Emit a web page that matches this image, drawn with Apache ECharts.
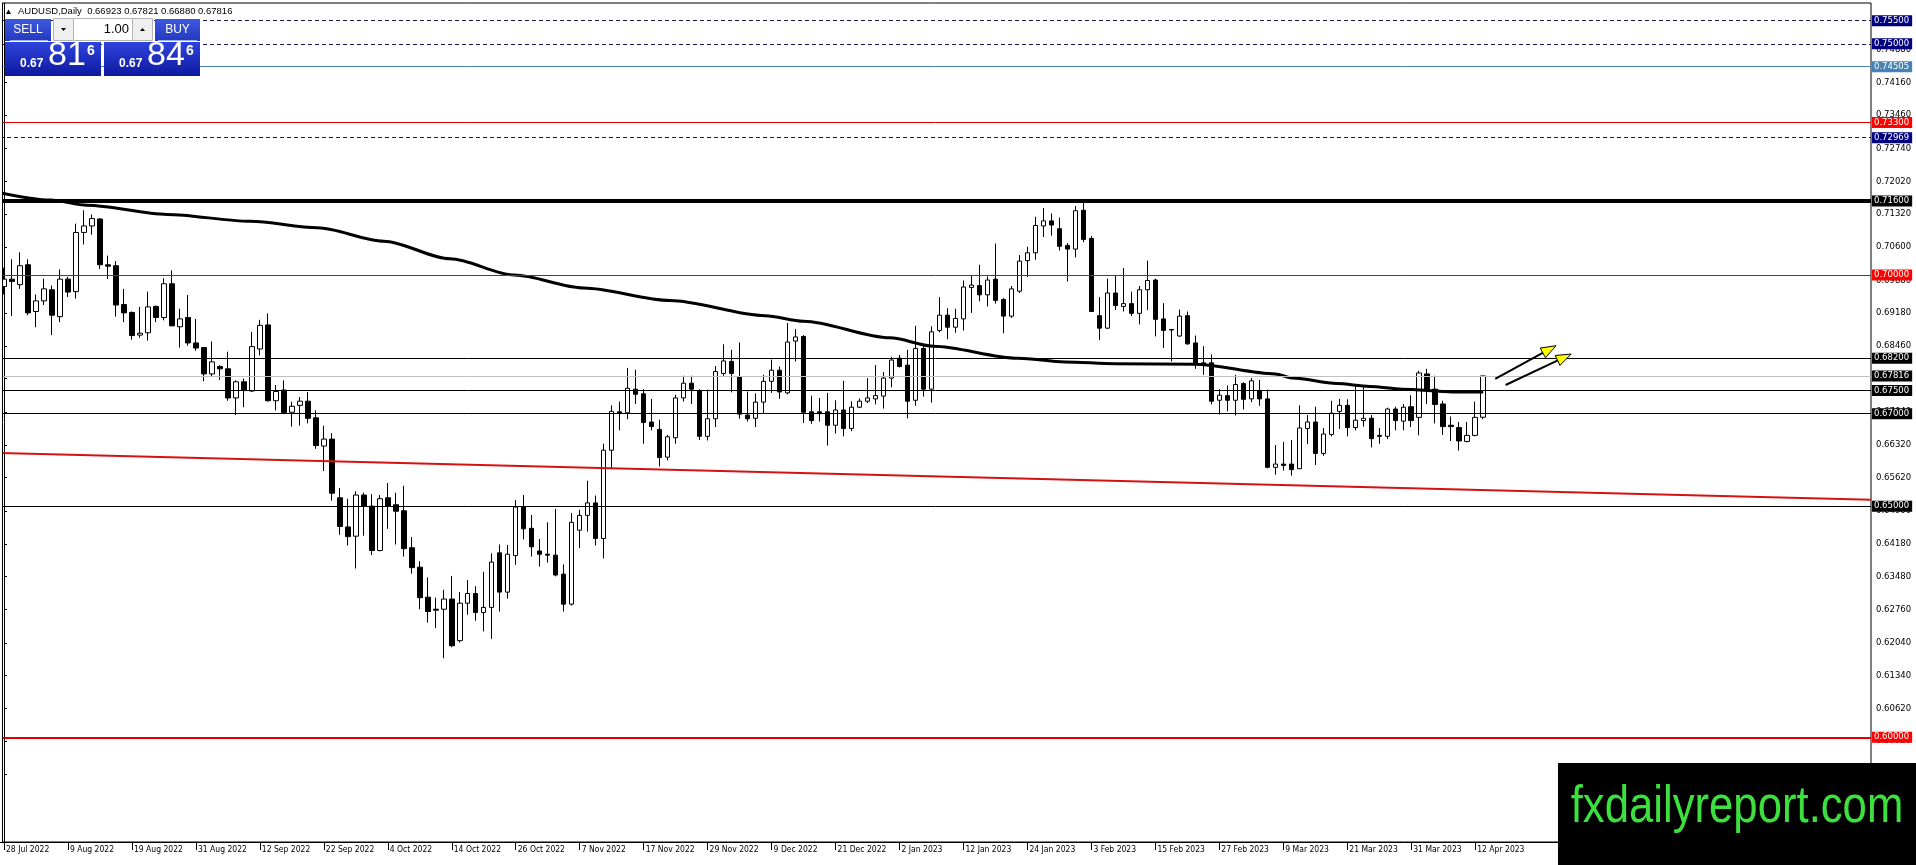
<!DOCTYPE html>
<html>
<head>
<meta charset="utf-8">
<script src="https://cdn.jsdelivr.net/npm/echarts@6/dist/echarts.min.js"></script>
<style>
html,body{margin:0;padding:0;background:#fff;}
#chart{width:1916px;height:865px;}
</style>
</head>
<body>
<div id="chart"></div>
<script>
// ---------- DATA ----------
const symbolTitle = 'AUDUSD,Daily  0.66923 0.67821 0.66880 0.67816';
const firstDay = '2022-07-28';
const lastDay = '2023-04-13';
const emptySlots = 48; // chart shift area to the right of the last bar
const monthNames = ['Jan','Feb','Mar','Apr','May','Jun','Jul','Aug','Sep','Oct','Nov','Dec'];

const openP = [
0.6975,0.6991,0.6979,0.7022,0.6921,0.6944,0.6968,0.6910,0.6991,0.6964,
0.7092,0.7106,0.7121,0.7022,0.7020,0.6936,0.6919,0.6870,0.6875,0.6932,
0.6908,0.6981,0.6888,0.6908,0.6853,0.6843,0.6786,0.6802,0.6797,0.6734,
0.6769,0.6749,0.6840,0.6892,0.6728,0.6751,0.6703,0.6718,0.6727,0.6691,
0.6630,0.6645,0.6518,0.6455,0.6435,0.6524,0.6500,0.6404,0.6518,0.6503,
0.6490,0.6410,0.6368,0.6303,0.6277,0.6277,0.6299,0.6209,0.6290,0.6311,
0.6270,0.6281,0.6399,0.6314,0.6393,0.6499,0.6452,0.6403,0.6396,0.6394,
0.6353,0.6288,0.6448,0.6480,0.6507,0.6430,0.6621,0.6704,0.6702,0.6753,
0.6743,0.6682,0.6666,0.6606,0.6648,0.6734,0.6766,0.6749,0.6651,0.6689,
0.6787,0.6813,0.6780,0.6697,0.6690,0.6725,0.6770,0.6794,0.6745,0.6857,
0.6867,0.6704,0.6704,0.6704,0.6675,0.6708,0.6668,0.6714,0.6727,0.6732,
0.6738,0.6777,0.6820,0.6805,0.6729,0.6841,0.6753,0.6880,0.6913,0.6887,
0.6905,0.6973,0.6977,0.6957,0.6991,0.6947,0.6911,0.6965,0.7031,0.7048,
0.7106,0.7117,0.7100,0.7064,0.7056,0.7140,0.7079,0.6912,0.6885,0.6961,
0.6932,0.6938,0.6917,0.6968,0.6989,0.6905,0.6882,0.6868,0.6912,0.6853,
0.6810,0.6810,0.6729,0.6739,0.6729,0.6765,0.6732,0.6749,0.6732,0.6584,
0.6591,0.6591,0.6581,0.6668,0.6682,0.6614,0.6655,0.6705,0.6718,0.6670,
0.6685,0.6690,0.6653,0.6651,0.6710,0.6684,0.6715,0.6692,0.6786,0.6753,
0.6721,0.6675,0.6670,0.6640,0.6653,0.66923];

const highP = [
0.7016,0.7034,0.7049,0.7034,0.6958,0.6992,0.6977,0.7012,0.6996,0.7111,
0.7140,0.7131,0.7123,0.7042,0.7030,0.6970,0.6921,0.6931,0.6964,0.6934,
0.6993,0.7010,0.6927,0.6957,0.6905,0.6844,0.6856,0.6805,0.6834,0.6772,
0.6776,0.6877,0.6903,0.6917,0.6762,0.6772,0.6726,0.6736,0.6747,0.6707,
0.6674,0.6658,0.6539,0.6516,0.6532,0.6529,0.6526,0.6524,0.6550,0.6529,
0.6544,0.6433,0.6381,0.6346,0.6302,0.6319,0.6349,0.6314,0.6340,0.6327,
0.6358,0.6398,0.6417,0.6416,0.6513,0.6524,0.6481,0.6429,0.6465,0.6494,
0.6374,0.6485,0.6492,0.6555,0.6523,0.6635,0.6718,0.6726,0.6799,0.6795,
0.6753,0.6732,0.6687,0.6654,0.6741,0.6782,0.6782,0.6753,0.6752,0.6803,
0.6850,0.6838,0.6854,0.6748,0.6744,0.6784,0.6817,0.6802,0.6896,0.6883,
0.6870,0.6739,0.6734,0.6745,0.6729,0.6771,0.6727,0.6733,0.6777,0.6805,
0.6790,0.6823,0.6827,0.6838,0.6890,0.6850,0.6889,0.6952,0.6928,0.6927,
0.6988,0.6999,0.7022,0.6997,0.7068,0.6950,0.6976,0.7043,0.7061,0.7126,
0.7145,0.7133,0.7124,0.7069,0.7149,0.7157,0.7084,0.6952,0.6992,0.6999,
0.7015,0.6964,0.6976,0.7031,0.6992,0.6939,0.6883,0.6925,0.6921,0.6869,
0.6846,0.6828,0.6753,0.6761,0.6784,0.6768,0.6777,0.6773,0.6752,0.6632,
0.6639,0.6643,0.6718,0.6697,0.6715,0.6669,0.6728,0.6732,0.6731,0.6760,
0.6757,0.6697,0.6669,0.6713,0.6715,0.6721,0.6740,0.6793,0.6797,0.6782,
0.6728,0.6694,0.6682,0.6682,0.6726,0.67821];

const lowP = [
0.6958,0.6911,0.6970,0.6913,0.6887,0.6935,0.6870,0.6898,0.6952,0.6949,
0.7066,0.7087,0.7013,0.6991,0.6910,0.6898,0.6860,0.6864,0.6858,0.6898,
0.6902,0.6889,0.6843,0.6847,0.6836,0.6770,0.6779,0.6773,0.6728,0.6697,
0.6714,0.6747,0.6826,0.6726,0.6707,0.6700,0.6672,0.6674,0.6679,0.6624,
0.6576,0.6512,0.6438,0.6415,0.6365,0.6436,0.6394,0.6402,0.6451,0.6417,
0.6391,0.6354,0.6277,0.6248,0.6236,0.6171,0.6195,0.6205,0.6265,0.6252,
0.6229,0.6213,0.6272,0.6300,0.6373,0.6428,0.6391,0.6369,0.6378,0.6348,
0.6272,0.6285,0.6409,0.6445,0.6415,0.6387,0.6580,0.6664,0.6688,0.6721,
0.6635,0.6664,0.6586,0.6599,0.6635,0.6726,0.6721,0.6643,0.6642,0.6671,
0.6782,0.6746,0.6689,0.6683,0.6671,0.6701,0.6745,0.6732,0.6742,0.6813,
0.6680,0.6678,0.6683,0.6631,0.6657,0.6651,0.6662,0.6712,0.6723,0.6720,
0.6711,0.6757,0.6800,0.6690,0.6717,0.6737,0.6724,0.6876,0.6861,0.6875,
0.6880,0.6918,0.6943,0.6932,0.6938,0.6874,0.6907,0.6961,0.6995,0.7033,
0.7082,0.7085,0.7053,0.6986,0.7038,0.7071,0.6920,0.6859,0.6883,0.6924,
0.6921,0.6911,0.6893,0.6924,0.6867,0.6842,0.6813,0.6866,0.6849,0.6797,
0.6784,0.6720,0.6698,0.6705,0.6696,0.6709,0.6725,0.6717,0.6582,0.6568,
0.6577,0.6566,0.6580,0.6634,0.6589,0.6609,0.6651,0.6667,0.6651,0.6664,
0.6672,0.6627,0.6635,0.6645,0.6664,0.6664,0.6671,0.6653,0.6721,0.6679,
0.6654,0.6641,0.6620,0.6638,0.6651,0.66880];

const closeP = [
0.6991,0.6986,0.7020,0.6918,0.6944,0.6970,0.6913,0.6991,0.6963,0.7092,
0.7106,0.7122,0.7022,0.7019,0.6935,0.6918,0.6869,0.6874,0.6931,0.6908,
0.6981,0.6890,0.6905,0.6853,0.6842,0.6786,0.6812,0.6797,0.6734,0.6769,
0.6750,0.6845,0.6891,0.6728,0.6748,0.6702,0.6716,0.6727,0.6690,0.6631,
0.6645,0.6528,0.6456,0.6434,0.6524,0.6500,0.6404,0.6516,0.6500,0.6489,
0.6408,0.6367,0.6302,0.6272,0.6275,0.6299,0.6198,0.6290,0.6311,0.6270,
0.6281,0.6379,0.6314,0.6396,0.6498,0.6451,0.6412,0.6396,0.6394,0.6351,
0.6288,0.6465,0.6480,0.6507,0.6430,0.6621,0.6705,0.6702,0.6755,0.6742,
0.6681,0.6672,0.6605,0.6650,0.6734,0.6766,0.6753,0.6651,0.6689,0.6791,
0.6814,0.6787,0.6699,0.6689,0.6725,0.6770,0.6794,0.6747,0.6855,0.6866,
0.6703,0.6685,0.6700,0.6675,0.6708,0.6668,0.6714,0.6727,0.6734,0.6739,
0.6777,0.6816,0.6802,0.6727,0.6841,0.6753,0.6877,0.6913,0.6887,0.6906,
0.6974,0.6978,0.6957,0.6989,0.6945,0.6911,0.6970,0.7030,0.7048,0.7107,
0.7117,0.7108,0.7062,0.7056,0.7139,0.7077,0.6921,0.6885,0.6961,0.6934,
0.6938,0.6917,0.6968,0.6988,0.6904,0.6880,0.6881,0.6911,0.6851,0.6806,
0.6804,0.6727,0.6740,0.6729,0.6763,0.6731,0.6771,0.6732,0.6584,0.6591,
0.6588,0.6579,0.6669,0.6682,0.6614,0.6656,0.6701,0.6718,0.6670,0.6686,
0.6690,0.6646,0.6651,0.6710,0.6685,0.6714,0.6685,0.6788,0.6753,0.6720,
0.6672,0.6672,0.6641,0.6653,0.6692,0.67816];

// moving average: [bar index, price]
const maPoints = [
[-0.5,0.7178],[5.8,0.7162],[10.4,0.7151],[20.4,0.7131],[30.8,0.7116],[39.2,0.7102],
[47.5,0.7073],[55.8,0.7035],[63.8,0.7000],[72.5,0.6972],[83.3,0.6945],[95.2,0.6912],
[100,0.6900],[110.8,0.6864],[116.2,0.6846],[126.8,0.6820],[132.7,0.6812],[139,0.6808],
[149,0.6807],[159,0.6786],[161.2,0.6777],[166.7,0.6765],[170.8,0.6759],[174.9,0.6753],
[181.2,0.6747],[185,0.6747]];

// red trend line anchors [bar index, price]
const trendPoints = [[-0.5,0.6615],[233.5,0.6514]];

// arrows: [x1 bar, price1, x2 bar, price2]
const arrowData = [[186.5,0.6775,194.1,0.6847],[187.8,0.6762,196.0,0.6829]];

// horizontal levels
const levelValues = [0.755,0.75,0.74505,0.733,0.72969,0.716,0.70,0.682,0.67816,0.675,0.67,0.65,0.60];

// right axis tick labels
const priceTicks = [0.7488,0.7416,0.7346,0.7274,0.7202,0.7132,0.7060,0.6988,0.6918,0.6846,0.6776,0.6704,
0.6632,0.6562,0.6490,0.6418,0.6348,0.6276,0.6204,0.6134,0.6062,0.5992,0.5920];

const panelSell = {big:'81', small:'0.67', sup:'6'};
const panelBuy = {big:'84', small:'0.67', sup:'6'};
const lotSize = '1.00';
const watermark = 'fxdailyreport.com';

// ---------- STYLES ----------
const NAVY = '#000080', DASH = '#14144a', RED = '#e00000', STEEL = '#4682b4';
const levelStyles = [
  {color:DASH, width:1, type:[4,3], bg:NAVY},
  {color:DASH, width:1, type:[4,3], bg:NAVY},
  {color:STEEL, width:1, type:'solid', bg:STEEL},
  {color:RED, width:1, type:'solid', bg:'#ff0000'},
  {color:DASH, width:1, type:[4,3], bg:NAVY},
  {color:'#000', width:4, type:'solid', bg:'#000'},
  {color:RED, width:1, type:'solid', bg:'#ff0000'},
  {color:'#000', width:1, type:'solid', bg:'#000'},
  {color:'#c0c0c0', width:1, type:'solid', bg:'#000'},
  {color:'#000', width:1, type:'solid', bg:'#000'},
  {color:'#000', width:1, type:'solid', bg:'#000'},
  {color:'#000', width:1, type:'solid', bg:'#000'},
  {color:RED, width:2, type:'solid', bg:'#ff0000'}
];

// ---------- BUILD ----------
const categories = [];
(function(){
  let d = new Date(firstDay + 'T00:00:00Z');
  const end = new Date(lastDay + 'T00:00:00Z');
  while (d <= end) {
    const wd = d.getUTCDay();
    if (wd !== 0 && wd !== 6) categories.push(d.getUTCDate() + ' ' + monthNames[d.getUTCMonth()] + ' ' + d.getUTCFullYear());
    d = new Date(d.getTime() + 86400000);
  }
})();
const nBars = categories.length;
for (let i = 0; i < emptySlots; i++) categories.push('');
const nCat = categories.length;

const candleData = openP.map((o, i) => [o, closeP[i], lowP[i], highP[i]]);

const markLineData = levelValues.map((v, i) => {
  const s = levelStyles[i];
  return {
    yAxis: v,
    lineStyle: {color: s.color, width: s.width, type: s.type},
    label: {
      show: true, position: 'end', distance: 1,
      formatter: () => v.toFixed(5),
      color: '#fff', backgroundColor: s.bg,
      fontFamily: 'DejaVu Sans', fontSize: 8.5, lineHeight: 10,
      padding: [1, 3, 0, 2]
    }
  };
});

const labelEvery = (idx) => idx % 8 === 0 && idx < nBars;

const FONT_PANEL = '"Liberation Sans", Arial, sans-serif';
const blueGrad = new echarts.graphic.LinearGradient(0,0,0,1,[{offset:0,color:'#2f44dc'},{offset:1,color:'#0d18a0'}]);
const btnGrad = new echarts.graphic.LinearGradient(0,0,0,1,[{offset:0,color:'#3d5ae0'},{offset:1,color:'#2339bf'}]);

function bigBox(x, p) {
  return [
    {type:'rect', shape:{x:x, y:42, width:96, height:34}, style:{fill:blueGrad}, z:100},
    {type:'text', x:x+15, y:70, style:{text:p.small, fill:'#fff', font:'bold 12px ' + FONT_PANEL, textVerticalAlign:'bottom'}, z:101},
    {type:'text', x:x+43, y:73, style:{text:p.big, fill:'#fff', font:'34px ' + FONT_PANEL, textVerticalAlign:'bottom'}, z:101},
    {type:'text', x:x+82, y:44, style:{text:p.sup, fill:'#fff', font:'bold 14px ' + FONT_PANEL, textVerticalAlign:'top'}, z:101}
  ];
}

const graphics = [
  // left frame
  {type:'rect', shape:{x:0, y:0, width:2, height:842}, style:{fill:'#fff'}, z:50},
  {type:'line', shape:{x1:2.5, y1:3, x2:2.5, y2:842}, style:{stroke:'#000', lineWidth:1}, z:51},
  // header
  {type:'polygon', shape:{points:[[6,14],[11,14],[8.5,9.5]]}, style:{fill:'#000'}, z:100},
  {type:'text', x:18, y:11.5, style:{text:symbolTitle, fill:'#000', font:'9.5px ' + FONT_PANEL, textVerticalAlign:'middle'}, z:100},
  // SELL button
  {type:'rect', shape:{x:5, y:19, width:46, height:22}, style:{fill:btnGrad}, z:100},
  {type:'line', shape:{x1:10, y1:40.5, x2:48, y2:40.5}, style:{stroke:'#9fb0f0', lineWidth:1}, z:101},
  {type:'text', x:28, y:30, style:{text:'SELL', fill:'#fff', font:'12px ' + FONT_PANEL, textAlign:'center', textVerticalAlign:'middle'}, z:101},
  // lot control
  {type:'rect', shape:{x:53.5, y:18.5, width:20, height:22}, style:{fill:'#efefef', stroke:'#b4b4b4', lineWidth:1}, z:100},
  {type:'polygon', shape:{points:[[61,28],[66,28],[63.5,31]]}, style:{fill:'#000'}, z:101},
  {type:'rect', shape:{x:73.5, y:18.5, width:59, height:22}, style:{fill:'#fff', stroke:'#b4b4b4', lineWidth:1}, z:100},
  {type:'text', x:129, y:29.5, style:{text:lotSize, fill:'#000', font:'13px ' + FONT_PANEL, textAlign:'right', textVerticalAlign:'middle'}, z:101},
  {type:'rect', shape:{x:132.5, y:18.5, width:20, height:22}, style:{fill:'#efefef', stroke:'#b4b4b4', lineWidth:1}, z:100},
  {type:'polygon', shape:{points:[[140,31],[145,31],[142.5,28]]}, style:{fill:'#000'}, z:101},
  // BUY button
  {type:'rect', shape:{x:155, y:19, width:45, height:22}, style:{fill:btnGrad}, z:100},
  {type:'line', shape:{x1:158, y1:40.5, x2:197, y2:40.5}, style:{stroke:'#9fb0f0', lineWidth:1}, z:101},
  {type:'text', x:177.5, y:30, style:{text:'BUY', fill:'#fff', font:'12px ' + FONT_PANEL, textAlign:'center', textVerticalAlign:'middle'}, z:101},
  ...bigBox(5, panelSell),
  ...bigBox(104, panelBuy),
  // watermark
  {type:'rect', shape:{x:1558, y:763, width:358, height:102}, style:{fill:'#000'}, z:100},
  {type:'text', x:1737, y:808, scaleX:0.84, style:{text:watermark, fill:'#3de13d', font:'52px ' + FONT_PANEL, textAlign:'center', textVerticalAlign:'middle'}, z:101}
];

const chart = echarts.init(document.getElementById('chart'), null, {renderer:'canvas'});
chart.setOption({
  animation: false,
  backgroundColor: '#fff',
  grid: {left: -0.7, right: 45, top: 3, bottom: 23, show: true, borderColor: '#000', borderWidth: 1, backgroundColor: 'transparent'},
  xAxis: [
    {
      type: 'category', data: categories, boundaryGap: true,
      axisLine: {show: true, lineStyle: {color: '#000', width: 1}},
      axisTick: {show: true, alignWithLabel: true, interval: labelEvery, length: 8, lineStyle: {color: '#000'}},
      axisLabel: {show: true, interval: labelEvery, align: 'left', margin: 3, padding: [0,0,0,2],
        color: '#000', fontFamily: '"DejaVu Sans Condensed", "DejaVu Sans", sans-serif', fontSize: 8.5},
      splitLine: {show: false}
    },
    {type: 'value', min: -0.5, max: nCat - 0.5, show: false}
  ],
  yAxis: {
    type: 'value', position: 'right', min: 0.57735, max: 0.75883, scale: true,
    axisLine: {show: true, lineStyle: {color: '#000', width: 1}},
    axisTick: {show: true, length: 3, customValues: priceTicks, lineStyle: {color: '#000'}},
    axisLabel: {show: true, customValues: priceTicks, formatter: v => v.toFixed(5), margin: 5,
      color: '#000', fontFamily: '"DejaVu Sans", sans-serif', fontSize: 8.5},
    splitLine: {show: false}
  },
  series: [
    {
      type: 'candlestick', xAxisIndex: 0, yAxisIndex: 0, data: candleData, barWidth: 5, z: 2,
      itemStyle: {color: '#fff', color0: '#000', borderColor: '#000', borderColor0: '#000', borderWidth: 1},
      emphasis: {disabled: true}, silent: true
    },
    {
      type: 'line', xAxisIndex: 1, yAxisIndex: 0, data: maPoints, showSymbol: false, symbol: 'none',
      smooth: 0.3, smoothMonotone: 'x', z: 3, silent: true,
      lineStyle: {color: '#000', width: 3},
      markLine: {silent: true, symbol: ['none','none'], precision: 5, data: markLineData, emphasis: {disabled: true}}
    },
    {
      type: 'line', xAxisIndex: 1, yAxisIndex: 0, data: trendPoints, showSymbol: false, symbol: 'none', z: 4, silent: true,
      lineStyle: {color: '#d81010', width: 2}
    },
    {
      type: 'custom', xAxisIndex: 1, yAxisIndex: 0, data: arrowData, z: 6, silent: true,
      encode: {x: [0, 2], y: [1, 3]},
      renderItem: function (params, api) {
        const a = api.coord([api.value(0), api.value(1)]);
        const b = api.coord([api.value(2), api.value(3)]);
        const dx = b[0] - a[0], dy = b[1] - a[1];
        const len = Math.sqrt(dx * dx + dy * dy), ux = dx / len, uy = dy / len;
        const hl = 15, hw = 5.5;
        const base = [b[0] - ux * hl, b[1] - uy * hl];
        const l = [base[0] - uy * hw, base[1] + ux * hw];
        const r = [base[0] + uy * hw, base[1] - ux * hw];
        return {type: 'group', children: [
          {type: 'line', shape: {x1: a[0], y1: a[1], x2: base[0] + ux * 2, y2: base[1] + uy * 2}, style: {stroke: '#000', lineWidth: 2}},
          {type: 'polygon', shape: {points: [b, l, r]}, style: {fill: '#ffff00', stroke: '#000', lineWidth: 1}}
        ]};
      }
    }
  ],
  graphic: graphics
});
</script>
</body>
</html>
